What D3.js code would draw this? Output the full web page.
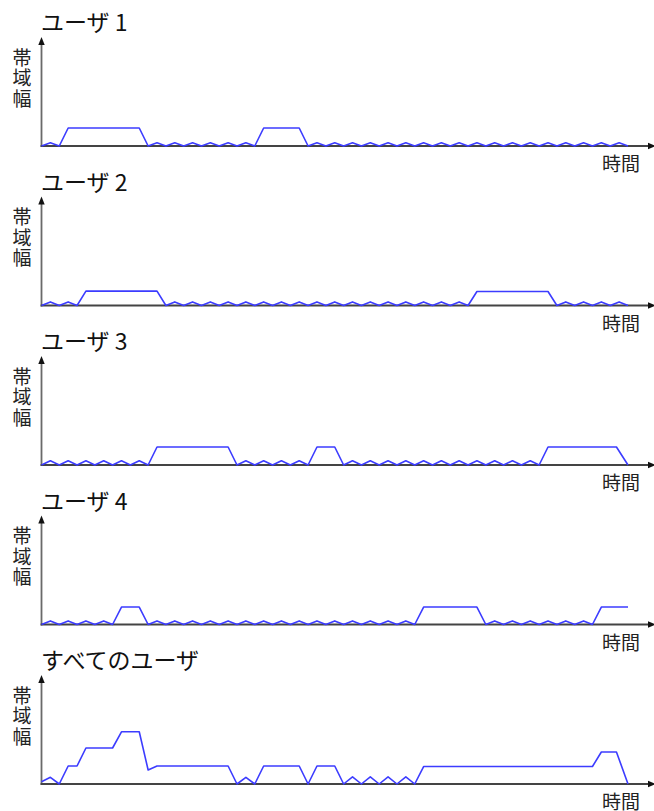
<!DOCTYPE html>
<html><head><meta charset="utf-8">
<script src="https://cdn.jsdelivr.net/npm/d3@7"></script>
<style>body{margin:0;background:#fff} svg{display:block}</style>
</head><body><svg id="c" width="654" height="811"></svg>
<script>
const titles = ["ユーザ 1", "ユーザ 2", "ユーザ 3", "ユーザ 4", "すべてのユーザ"];
const yLabel = "帯域幅";
const xLabel = "時間";

const user1 = [[0,0],[1,.18],[2,0],[3,1],[11,1],[12,0],
 [13,.18],[14,0],[15,.18],[16,0],[17,.18],[18,0],[19,.18],[20,0],[21,.18],[22,0],[23,.18],[24,0],
 [25,1],[29,1],[30,0],
 [31,.18],[32,0],[33,.18],[34,0],[35,.18],[36,0],[37,.18],[38,0],[39,.18],[40,0],[41,.18],[42,0],
 [43,.18],[44,0],[45,.18],[46,0],[47,.18],[48,0],[49,.18],[50,0],[51,.18],[52,0],[53,.18],[54,0],
 [55,.18],[56,0],[57,.18],[58,0],[59,.18],[60,0],[61,.18],[62,0],[63,.18],[64,0],[65,.18],[66,0]];

const user2 = [[0,0],[1,.2],[2,0],[3,.2],[4,0],[5,.8],[13,.8],[14,0],
 [15,.2],[16,0],[17,.2],[18,0],[19,.2],[20,0],[21,.2],[22,0],[23,.2],[24,0],[25,.2],[26,0],
 [27,.2],[28,0],[29,.2],[30,0],[31,.2],[32,0],[33,.2],[34,0],[35,.2],[36,0],[37,.2],[38,0],
 [39,.2],[40,0],[41,.2],[42,0],[43,.2],[44,0],[45,.2],[46,0],[47,.2],[48,0],
 [49,.78],[57,.78],[58,0],[59,.2],[60,0],[61,.2],[62,0],[63,.2],[64,0],[65,.2],[66,0]];

const user3 = [[0,0],[1,.24],[2,0],[3,.24],[4,0],[5,.24],[6,0],[7,.24],[8,0],[9,.24],[10,0],[11,.24],[12,0],
 [13,1],[21,1],[22,0],[23,.24],[24,0],[25,.24],[26,0],[27,.24],[28,0],[29,.24],[30,0],
 [31,1],[33,1],[34,0],
 [35,.24],[36,0],[37,.24],[38,0],[39,.24],[40,0],[41,.24],[42,0],[43,.24],[44,0],[45,.24],[46,0],
 [47,.24],[48,0],[49,.24],[50,0],[51,.24],[52,0],[53,.24],[54,0],[55,.24],[56,0],
 [57,1],[64.7,1],[66,0]];

const user4 = [[0,0],[1,.2],[2,0],[3,.2],[4,0],[5,.2],[6,0],[7,.2],[8,0],[9,.97],[11,.97],[12,0],
 [13,.2],[14,0],[15,.2],[16,0],[17,.2],[18,0],[19,.2],[20,0],[21,.2],[22,0],[23,.2],[24,0],
 [25,.2],[26,0],[27,.2],[28,0],[29,.2],[30,0],[31,.2],[32,0],[33,.2],[34,0],[35,.2],[36,0],
 [37,.2],[38,0],[39,.2],[40,0],[41,.2],[42,0],
 [43,.97],[49,.97],[50,0],
 [51,.2],[52,0],[53,.2],[54,0],[55,.2],[56,0],[57,.2],[58,0],[59,.2],[60,0],[61,.2],[62,0],
 [63,.97],[66,.97]];

const allUsers = [[0,.13],[1,.37],[2,0],[3,1],[4,1],[5,2],[8,2],[9,2.9],[11,2.9],[12,.78],[13,1],[21,1],
 [22,0],[23,.37],[24,0],[25,1],[29,1],[30,0],[31,1],[33,1],[34,0],
 [35,.4],[36,0],[37,.4],[38,0],[39,.4],[40,0],[41,.4],[42,0],
 [43,.97],[62,.97],[63,1.78],[64.7,1.78],[66,0]];

const series = [user1, user2, user3, user4, allUsers];

const svg = d3.select("#c");
const panelStep = 159.5, firstBase = 146;
const x = d3.scaleLinear().domain([0, 66]).range([41.5, 628]);
const y = d3.scaleLinear().domain([0, 6]).range([0, -108]);
const axisLeftX = 41.5, axisRightX = 654, axisTopY = -109;
const line = d3.line().x(d => x(d[0])).y(d => y(d[1]));
const font = "'Noto Sans CJK JP', 'Noto Sans', sans-serif";

series.forEach((data, i) => {
  const g = svg.append("g").attr("transform", `translate(0,${firstBase + i * panelStep})`);
  // y axis
  g.append("line").attr("x1", axisLeftX).attr("x2", axisLeftX).attr("y1", 1).attr("y2", axisTopY + 6)
    .attr("stroke", "#6a6a6a").attr("stroke-width", 1.8);
  g.append("path").attr("d", `M${axisLeftX},${axisTopY} L${axisLeftX-3.2},${axisTopY+8} L${axisLeftX+3.2},${axisTopY+8} Z`)
    .attr("fill", "#111");
  // x axis
  g.append("line").attr("x1", axisLeftX - 0.9).attr("x2", axisRightX - 5).attr("y1", 0).attr("y2", 0)
    .attr("stroke", "#444").attr("stroke-width", 1.8);
  g.append("path").attr("d", `M${axisRightX+2},0 L${axisRightX-6},-3.2 L${axisRightX-6},3.2 Z`)
    .attr("fill", "#111");
  // data line
  g.append("path").datum(data).attr("d", line)
    .attr("fill", "none").attr("stroke", "#3c3cff").attr("stroke-width", 1.6)
    .attr("stroke-linejoin", "round");
  // title
  g.append("text").attr("x", 41).attr("y", -115).text(titles[i])
    .attr("font-family", font).attr("font-size", 23).attr("fill", "#111");
  // y label (vertical)
  g.append("text").attr("x", 22).attr("y", -98).text(yLabel)
    .attr("writing-mode", "vertical-rl").style("writing-mode", "vertical-rl")
    .attr("letter-spacing", 1.5)
    .attr("font-family", font).attr("font-size", 19).attr("fill", "#222");
  // x label
  g.append("text").attr("x", 640).attr("y", 25).attr("text-anchor", "end").text(xLabel)
    .attr("font-family", font).attr("font-size", 19).attr("fill", "#222");
});
</script>
</body></html>
